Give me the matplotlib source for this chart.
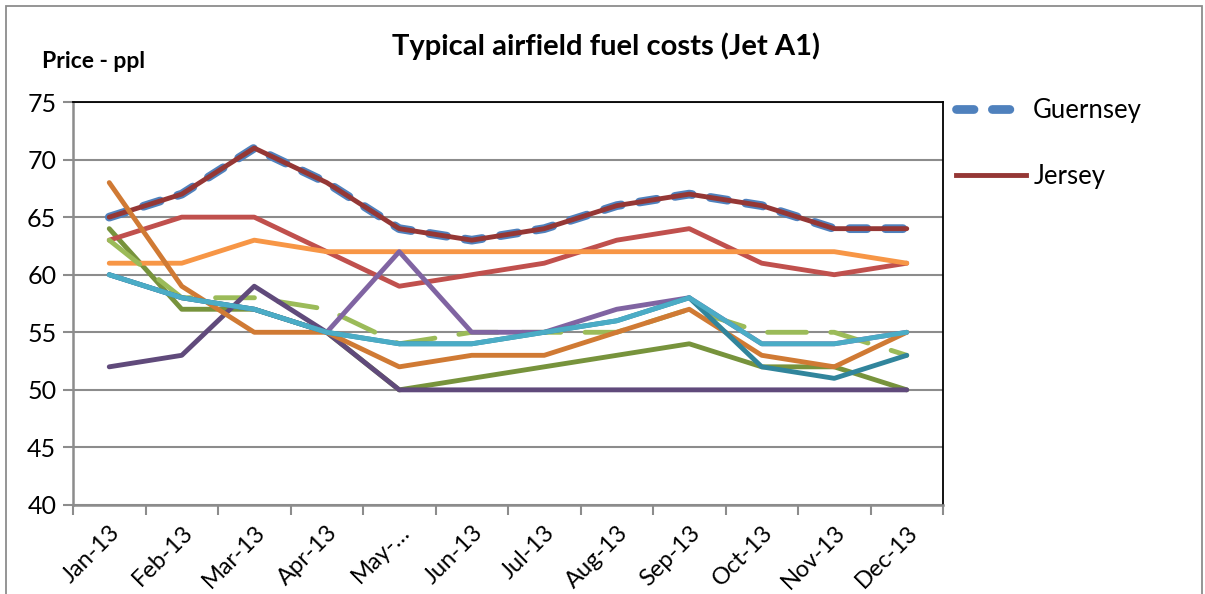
import matplotlib
matplotlib.use("Agg")
import matplotlib.pyplot as plt
from matplotlib.patches import Rectangle
from matplotlib.lines import Line2D

plt.rcParams['font.family'] = ['Lato', 'DejaVu Sans']

months = ['Jan-13', 'Feb-13', 'Mar-13', 'Apr-13', 'May-…', 'Jun-13',
          'Jul-13', 'Aug-13', 'Sep-13', 'Oct-13', 'Nov-13', 'Dec-13']

# series values (ppl)
guernsey = [65, 67, 71, 68, 64, 63, 64, 66, 67, 66, 64, 64]
jersey = [65, 67, 71, 68, 64, 63, 64, 66, 67, 66, 64, 64]
red = [63, 65, 65, 62, 59, 60, 61, 63, 64, 61, 60, 61]
orange = [61, 61, 63, 62, 62, 62, 62, 62, 62, 62, 62, 61]
dark_orange = [68, 59, 55, 55, 52, 53, 53, 55, 57, 53, 52, 55]
olive = [64, 57, 57, 55, 50, 51, 52, 53, 54, 52, 52, 50]
light_green = [63, 58, 58, 57, 54, 55, 55, 55, 57, 55, 55, 53]
dark_purple = [52, 53, 59, 55, 50, 50, 50, 50, 50, 50, 50, 50]
purple = [60, 58, 57, 55, 62, 55, 55, 57, 58, 54, 54, 55]
teal = [60, 58, 57, 55, 54, 54, 55, 56, 58, 54, 54, 55]
dark_teal = [60, 58, 57, 55, 54, 54, 55, 56, 58, 52, 51, 53]

x = list(range(len(months)))

fig = plt.figure(figsize=(12.05, 5.94), dpi=100)
ax = fig.add_axes([73 / 1205, 1 - 505 / 594, 870 / 1205, 403 / 594])

# outer chart border
fig.patches.append(Rectangle((6 / 1205, -0.1), 1196 / 1205, 1.1 - 6 / 594,
                             transform=fig.transFigure, fill=False,
                             edgecolor='#8c8c8c', linewidth=1.3))

lw = 3.5
glw = 6.3
ax.plot(x, guernsey, color='#4F81BD', linewidth=glw, linestyle=(0, (2.0, 2.1)),
        dash_capstyle='round', solid_capstyle='round', zorder=2)
ax.plot(x, jersey, color='#953735', linewidth=lw, solid_capstyle='round', zorder=3)
ax.plot(x, olive, color='#77933C', linewidth=lw, solid_capstyle='round', zorder=4)
ax.plot(x, red, color='#C0504D', linewidth=lw, solid_capstyle='round', zorder=5)
ax.plot(x, orange, color='#F79646', linewidth=lw, solid_capstyle='round', zorder=6)
ax.plot(x, light_green, color='#9BBB59', linewidth=lw, linestyle=(0, (8.0, 5.0)),
        dash_capstyle='round', zorder=7)
ax.plot(x, dark_purple, color='#604A7B', linewidth=lw, solid_capstyle='round', zorder=8)
ax.plot(x, purple, color='#8064A2', linewidth=lw, solid_capstyle='round', zorder=9)
ax.plot(x, dark_orange, color='#D07A34', linewidth=lw, solid_capstyle='round', zorder=10)
ax.plot(x, dark_teal, color='#31859C', linewidth=lw, solid_capstyle='round', zorder=11)
ax.plot(x, teal, color='#4BACC6', linewidth=lw, solid_capstyle='round', zorder=12)

ax.set_xlim(-0.5, len(months) - 0.5)
ax.set_ylim(40, 75)
ax.set_yticks(range(40, 76, 5))
ax.yaxis.grid(True, color='#8c8c8c', linewidth=1.5)
ax.set_axisbelow(True)

ax.set_xticks(x)
ax.set_xticklabels(months, rotation=45, ha='right', rotation_mode='anchor')
ax.set_xticks([i - 0.5 for i in range(len(months) + 1)], minor=True)
ax.tick_params(axis='x', which='major', length=0, pad=12, labelsize=17)
ax.tick_params(axis='x', which='minor', length=7, width=1.5, color='#8c8c8c', direction='out')
ax.tick_params(axis='y', length=7, width=1.5, color='#8c8c8c', labelsize=18, pad=5)

for s in ['left', 'bottom']:
    ax.spines[s].set_color('#8c8c8c')
    ax.spines[s].set_linewidth(1.8)
for s in ['top', 'right']:
    ax.spines[s].set_color('black')
    ax.spines[s].set_linewidth(1.3)

fig.text(606 / 1205, 1 - 46 / 594, 'Typical airfield fuel costs (Jet A1)',
         ha='center', va='center', fontsize=21, fontweight='bold')
fig.text(42 / 1205, 1 - 61 / 594, 'Price - ppl', ha='left', va='center',
         fontsize=16.5, fontweight='bold')

handles = [Line2D([], [], color='#4F81BD', linewidth=glw, linestyle=(0, (2.0, 2.1)),
                  dash_capstyle='round'),
           Line2D([], [], color='#953735', linewidth=lw)]
fig.legend(handles, ['Guernsey', 'Jersey'], loc='upper left',
           bbox_to_anchor=(933 / 1205, 1 - 75 / 594), frameon=False,
           fontsize=18.5, handlelength=2.7, handletextpad=0.3, labelspacing=1.6)

fig.savefig('out.png', dpi=100)
